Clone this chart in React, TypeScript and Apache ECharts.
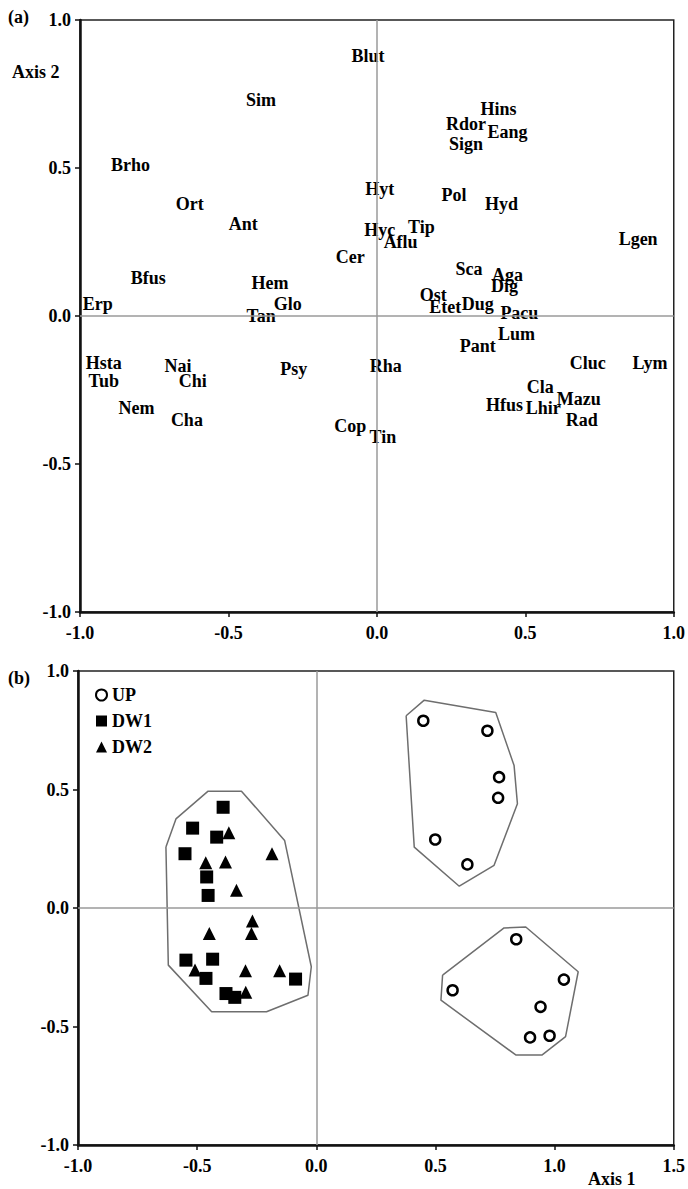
import React, { useEffect, useRef } from "react";
import * as echarts from "echarts";

// Panel (a): species scores
const speciesNames = ["Blut","Sim","Brho","Ort","Ant","Bfus","Hem","Cer","Hyt","Hyc","Tip","Aflu","Hins","Rdor","Eang","Sign","Pol","Hyd","Lgen","Sca","Aga","Dig","Ost","Etet","Dug","Pacu","Lum","Pant","Rha","Cluc","Lym","Cla","Mazu","Hfus","Lhir","Rad","Cop","Tin","Erp","Glo","Tan","Hsta","Tub","Nai","Chi","Nem","Cha","Psy"];
const speciesAxis1 = [-0.03,-0.39,-0.83,-0.63,-0.45,-0.77,-0.36,-0.09,0.01,0.01,0.15,0.08,0.41,0.30,0.44,0.30,0.26,0.42,0.88,0.31,0.44,0.43,0.19,0.23,0.34,0.48,0.47,0.34,0.03,0.71,0.92,0.55,0.68,0.43,0.56,0.69,-0.09,0.02,-0.94,-0.30,-0.39,-0.92,-0.92,-0.67,-0.62,-0.81,-0.64,-0.28];
const speciesAxis2 = [0.88,0.73,0.51,0.38,0.31,0.13,0.11,0.20,0.43,0.29,0.30,0.25,0.70,0.65,0.62,0.58,0.41,0.38,0.26,0.16,0.14,0.10,0.07,0.03,0.04,0.01,-0.06,-0.10,-0.17,-0.16,-0.16,-0.24,-0.28,-0.30,-0.31,-0.35,-0.37,-0.41,0.04,0.04,0.00,-0.16,-0.22,-0.17,-0.22,-0.31,-0.35,-0.18];

// Panel (b): site scores
const upAxis1 = [0.449,0.718,0.767,0.763,0.499,0.634,0.839,0.572,1.039,0.941,0.897,0.979];
const upAxis2 = [0.79,0.748,0.552,0.465,0.289,0.184,-0.132,-0.347,-0.302,-0.417,-0.546,-0.539];
const dw1Axis1 = [-0.391,-0.519,-0.418,-0.551,-0.46,-0.454,-0.547,-0.435,-0.463,-0.379,-0.342,-0.087];
const dw1Axis2 = [0.425,0.337,0.299,0.229,0.131,0.053,-0.22,-0.216,-0.297,-0.361,-0.377,-0.3];
const dw2Axis1 = [-0.367,-0.186,-0.464,-0.381,-0.335,-0.268,-0.449,-0.272,-0.509,-0.297,-0.154,-0.296];
const dw2Axis2 = [0.317,0.229,0.191,0.194,0.075,-0.055,-0.108,-0.108,-0.262,-0.265,-0.265,-0.356];

// Hull outlines (vertices)
const hullUpTop = [[0.377,0.811],[0.453,0.877],[0.753,0.825],[0.83,0.601],[0.844,0.44],[0.746,0.18],[0.6,0.092],[0.411,0.257]];
const hullUpBottom = [[0.53,-0.283],[0.523,-0.389],[0.837,-0.62],[0.948,-0.62],[1.046,-0.543],[1.099,-0.269],[0.879,-0.08],[0.788,-0.084]];
const hullDw = [[-0.631,0.257],[-0.589,0.376],[-0.454,0.493],[-0.314,0.493],[-0.133,0.285],[-0.021,-0.248],[-0.035,-0.368],[-0.209,-0.438],[-0.439,-0.438],[-0.621,-0.241]];

const legendNames = ["UP", "DW1", "DW2"];

const FONT = "Liberation Serif";
const INK = "#000";

const zip = (a: number[], b: number[]) => a.map((v, i) => [v, b[i]]);
const close = (p: number[][]) => [...p, p[0]];

export default function App() {
  const ref = useRef<HTMLDivElement>(null);
  useEffect(() => {
    document.body.style.margin = "0";
    const chart = echarts.init(ref.current!, null, { renderer: "svg" });
    const tickLabel = {
      fontFamily: FONT, fontWeight: "bold", fontSize: 18, color: INK,
      formatter: (v: number) => v.toFixed(1),
    };
    const axisCommon = (min: number, max: number, isX: boolean, gridIndex: number) => ({
      type: "value", gridIndex, min, max, interval: 0.5,
      axisLine: { show: true, onZero: false, lineStyle: { color: "#111", width: 2.5 } },
      axisTick: { show: true, length: 5, lineStyle: { color: "#111", width: 1.5 } },
      axisLabel: { ...tickLabel, margin: isX ? 12 : 9 },
      splitLine: { show: false },
    });
    const zeroLines = {
      silent: true, symbol: "none",
      lineStyle: { color: "#9a9a9a", width: 1.5, type: "solid" },
      label: { show: false },
      data: [{ xAxis: 0 }, { yAxis: 0 }],
    };
    const hullSeries = (pts: number[][]) => ({
      type: "line", xAxisIndex: 1, yAxisIndex: 1, data: close(pts),
      symbol: "none", lineStyle: { color: "#6e6e6e", width: 1.5 }, silent: true, z: 1,
    });
    chart.setOption({
      animation: false,
      backgroundColor: "#fff",
      grid: [
        { left: 80, top: 20, width: 594, height: 592, show: true, borderColor: "#222", borderWidth: 1.5 },
        { left: 78, top: 671, width: 597, height: 474, show: true, borderColor: "#222", borderWidth: 1.5 },
      ],
      xAxis: [axisCommon(-1, 1, true, 0), axisCommon(-1, 1.5, true, 1)],
      yAxis: [axisCommon(-1, 1, false, 0), axisCommon(-1, 1, false, 1)],
      legend: {
        orient: "vertical", left: 90, top: 681, itemWidth: 11, itemHeight: 11, itemGap: 8,
        textStyle: { fontFamily: FONT, fontWeight: "bold", fontSize: 18, color: INK },
        data: legendNames,
      },
      series: [
        {
          type: "scatter", xAxisIndex: 0, yAxisIndex: 0,
          data: speciesNames.map((n, i) => ({ name: n, value: [speciesAxis1[i], speciesAxis2[i]] })),
          symbolSize: 1, itemStyle: { color: "rgba(0,0,0,0)", opacity: 1 },
          label: {
            show: true, position: "inside", formatter: (p: any) => p.name,
            fontFamily: FONT, fontWeight: "bold", fontSize: 18, color: INK, opacity: 1,
          },
          markLine: zeroLines, z: 3,
        },
        {
          type: "scatter", xAxisIndex: 1, yAxisIndex: 1, data: [], markLine: zeroLines, z: 0,
        },
        hullSeries(hullUpTop),
        hullSeries(hullUpBottom),
        hullSeries(hullDw),
        {
          name: legendNames[0], type: "scatter", xAxisIndex: 1, yAxisIndex: 1,
          data: zip(upAxis1, upAxis2), symbol: "circle", symbolSize: 10,
          itemStyle: { color: "#fff", borderColor: INK, borderWidth: 2.5, opacity: 1 }, z: 3,
        },
        {
          name: legendNames[1], type: "scatter", xAxisIndex: 1, yAxisIndex: 1,
          data: zip(dw1Axis1, dw1Axis2), symbol: "rect", symbolSize: 13,
          itemStyle: { color: INK, opacity: 1 }, z: 3,
        },
        {
          name: legendNames[2], type: "scatter", xAxisIndex: 1, yAxisIndex: 1,
          data: zip(dw2Axis1, dw2Axis2), symbol: "triangle", symbolSize: 13,
          itemStyle: { color: INK, opacity: 1 }, z: 3,
        },
      ],
      graphic: [
        { type: "text", left: 8, top: 8, style: { text: "(a)", font: `bold 18px "${FONT}"`, fill: INK } },
        { type: "text", left: 8, top: 669, style: { text: "(b)", font: `bold 18px "${FONT}"`, fill: INK } },
        { type: "text", left: 12, top: 63, style: { text: "Axis 2", font: `bold 18px "${FONT}"`, fill: INK } },
        { type: "text", left: 588, top: 1170, style: { text: "Axis 1", font: `bold 18px "${FONT}"`, fill: INK } },
      ],
    });
    return () => chart.dispose();
  }, []);
  return <div ref={ref} style={{ position: "absolute", left: 0, top: 0, width: 688, height: 1189 }} />;
}
